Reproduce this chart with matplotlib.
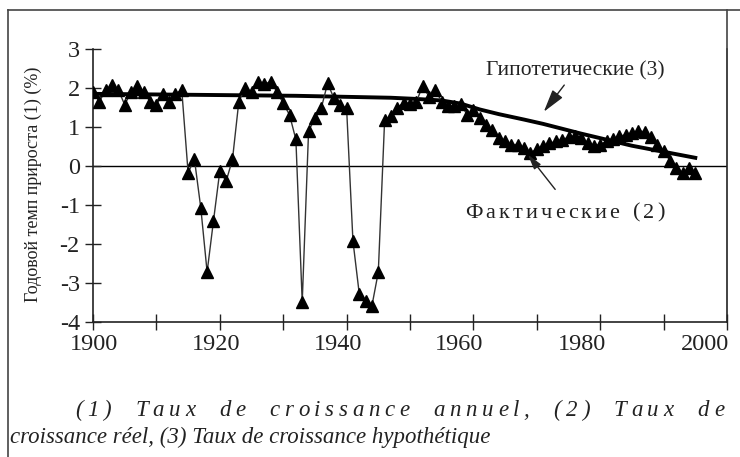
import matplotlib
matplotlib.use("Agg")
import matplotlib.pyplot as plt
from matplotlib.ticker import MultipleLocator
from matplotlib.lines import Line2D
from matplotlib.transforms import ScaledTranslation

years = list(range(1900, 1996))
actual = [
    1.90, 1.65, 1.95, 2.08, 1.95, 1.57, 1.90, 2.04, 1.90, 1.65,   # 1900s
    1.57, 1.85, 1.65, 1.85, 1.95, -0.17, 0.17, -1.07, -2.72, -1.41,  # 1910s
    -0.13, -0.39, 0.17, 1.65, 2.00, 1.90, 2.16, 2.10, 2.16, 1.91,  # 1920s
    1.61, 1.31, 0.68, -3.49, 0.89, 1.23, 1.48, 2.12, 1.74, 1.57,   # 1930s
    1.48, -1.92, -3.28, -3.45, -3.58, -2.72, 1.19, 1.27, 1.50, 1.62,  # 1940s
    1.60, 1.65, 2.05, 1.78, 1.95, 1.65, 1.53, 1.53, 1.60, 1.31,   # 1950s
    1.44, 1.24, 1.06, 0.93, 0.73, 0.63, 0.55, 0.55, 0.45, 0.34,   # 1960s
    0.43, 0.52, 0.58, 0.63, 0.67, 0.74, 0.77, 0.72, 0.58, 0.52,   # 1970s
    0.55, 0.63, 0.70, 0.76, 0.80, 0.85, 0.90, 0.88, 0.75, 0.55,   # 1980s
    0.38, 0.14, -0.04, -0.18, -0.06, -0.18,                       # 1990s
]

# hypothetical trend line
hyp_years = [1900, 1932, 1947, 1951, 1955, 1958, 1961, 1964, 1968, 1971, 1977, 1985, 1995]
hyp_vals = [1.85, 1.80, 1.75, 1.72, 1.68, 1.60, 1.45, 1.33, 1.19, 1.08, 0.83, 0.52, 0.21]

x_ticks = [1900, 1920, 1940, 1960, 1980, 2000]
y_ticks = [-4, -3, -2, -1, 0, 1, 2, 3]

W, H = 740, 457
plt.rcParams["font.family"] = ["Liberation Serif", "DejaVu Serif"]
plt.rcParams["axes.unicode_minus"] = False

fig = plt.figure(figsize=(W / 100, H / 100), dpi=100)
fig.patch.set_facecolor("white")
renderer = fig.canvas.get_renderer()

# outer frame (left, top, right)
fig.add_artist(Line2D([8 / W, 8 / W], [0, 1 - 10 / H], color="#444", lw=1.2))
fig.add_artist(Line2D([8 / W, 1], [1 - 10 / H, 1 - 10 / H], color="#444", lw=1.2))
fig.add_artist(Line2D([727 / W, 727 / W], [1 - 10 / H, 1 - 49 / H], color="#444", lw=1.2))

ax = fig.add_axes([93 / W, 1 - 322 / H, (727 - 93) / W, (322 - 49) / H])
ax.plot(hyp_years, hyp_vals, color="black", lw=2.8, zorder=2)
ax.plot(years, actual, color="#333", lw=1.0, marker="^", markersize=8.5,
        markerfacecolor="black", markeredgecolor="black", zorder=3)
ax.axhline(0, color="black", lw=1.0, zorder=1)

ax.set_xlim(1900, 2000)
ax.set_ylim(-4, 3)
ax.set_xticks(x_ticks)
ax.xaxis.set_minor_locator(MultipleLocator(10))
ax.set_yticks(y_ticks)
ax.tick_params(axis="both", which="both", direction="inout", length=11, width=1.0,
               colors="#222", labelsize=17.5)
ax.tick_params(axis="y", pad=4)
ax.tick_params(axis="x", pad=3)
ax.spines["top"].set_visible(False)
for s in ["left", "bottom", "right"]:
    ax.spines[s].set_color("#222")
    ax.spines[s].set_linewidth(1.2)
ax.set_facecolor("none")

# the scanned year labels sit a little left of their ticks
label_shift = [1, -4, -9, -14, -18, -22]
for lbl, dx in zip(ax.get_xticklabels(), label_shift):
    lbl.set_transform(lbl.get_transform() + ScaledTranslation(dx / 100, 0, fig.dpi_scale_trans))

fig.text(33 / W, 1 - 184 / H, "Годовой темп прироста (1) (%)", rotation=90,
         ha="center", va="center", fontsize=13, color="#222")


def char_width(c, kw):
    if c == " ":
        a = fig.text(0, 0, "x x", **kw)
        b = fig.text(0, 0, "xx", **kw)
        w = a.get_window_extent(renderer).width - b.get_window_extent(renderer).width
        a.remove()
        b.remove()
        return w
    t = fig.text(0, 0, c, **kw)
    w = t.get_window_extent(renderer).width
    t.remove()
    return w


def spaced(line, x0, x1, y, kw, space_ratio):
    # spread the line between x0 and x1; a word space gets space_ratio
    # times the extra gap that a letter gets
    widths = [char_width(c, kw) for c in line]
    n_space = line.count(" ")
    n_gap = len(line) - 1 - n_space
    e = (x1 - x0 - sum(widths)) / (n_gap + space_ratio * n_space)
    x = x0
    for c, w in zip(line, widths):
        if c != " ":
            fig.text(x / W, 1 - y / H, c, **kw)
            x += w + e
        else:
            x += w + e * space_ratio


arrow = dict(arrowstyle="-|>,head_length=0.9,head_width=0.25", color="#222", lw=1.0,
             shrinkA=0, shrinkB=0)
ax.annotate("Гипотетические (3)", xy=(1971.1, 1.39), xytext=(1976.1, 2.45),
            ha="center", va="center", fontsize=15.5, color="#222",
            arrowprops=dict(arrow, shrinkA=2))
ax.annotate("", xy=(1968.6, 0.29), xytext=(1972.9, -0.6), arrowprops=arrow)
note_kw = dict(fontsize=16, color="#222", va="center", ha="left")
spaced("Фактические (2)", 465, 665, 213, note_kw, 1.5)

# caption, first line justified across the width
cap_kw = dict(fontsize=16.5, style="italic", color="#222", va="center", ha="left")
spaced("(1) Taux de croissance annuel, (2) Taux de", 75, 724, 410, cap_kw, 3.0)
fig.text(10 / W, 1 - 437 / H, "croissance réel, (3) Taux de croissance hypothétique", **cap_kw)

fig.savefig("out.png", dpi=100)
